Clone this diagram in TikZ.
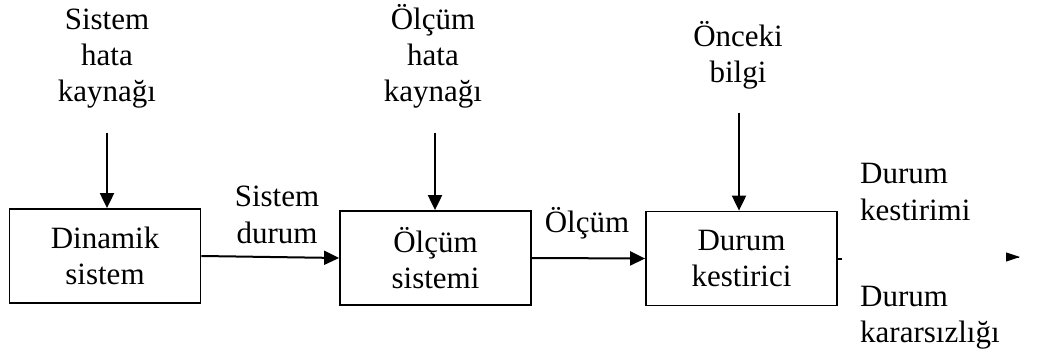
\documentclass[tikz,border=0pt]{standalone}
\usepackage{fontspec}
\setmainfont{Liberation Serif}
\usetikzlibrary{arrows.meta,calc}

\tikzset{
  blok/.style={draw, line width=1.8pt, minimum width=191pt, minimum height=94pt,
    align=center, inner sep=0pt},
  etiket/.style={align=center, inner sep=0pt, anchor=base},
  ok/.style={line width=2pt, -{Triangle[length=15pt,width=14pt]}}
}

\begin{document}
\begin{tikzpicture}[x=1pt, y=-1pt,
  every node/.style={font=\fontsize{31}{36}\selectfont}]
  \useasboundingbox (0,0) rectangle (1038,358);
  % bloklar
  \node[blok] (dinamik) at (105,256) {Dinamik\\sistem};
  \node[blok] (olcsis) at (435.5,258) {Ölçüm\\sistemi};
  \node[blok] (kestirici) at (741.5,258.5) {Durum\\kestirici};
  % girdiler
  \node[etiket] (sishata) at (107,102) {Sistem\\hata\\kaynağı};
  \node[etiket] (olchata) at (433,102) {Ölçüm\\hata\\kaynağı};
  \node[etiket] (onceki) at (738,83) {Önceki\\bilgi};
  \coordinate (g1) at (107,133);
  \coordinate (g2) at (435,133);
  \coordinate (g3) at (739,113);
  \draw[ok] (g1) -- (g1 |- dinamik.north);
  \draw[ok] (g2) -- (g2 |- olcsis.north);
  \draw[ok] (g3) -- (g3 |- kestirici.north);
  % baglantilar
  \draw[ok] (dinamik.east) -- (olcsis.west);
  \draw[ok] (olcsis.east) -- (kestirici.west);
  \node[etiket] (sisdurum) at (277,243) {Sistem\\durum};
  \node[etiket] (olcum) at (587,233) {Ölçüm};
  % cikis
  \coordinate (uc) at (1020,257);
  \draw[line width=2pt] (kestirici.east) -- ++(4,0);
  \draw[line width=1pt, -{Triangle[length=14pt,width=9pt]}] ($(uc)+(-1,0)$) -- (uc);
  \node[etiket, align=left, anchor=base west] (kestirim) at (860,220) {Durum\\kestirimi};
  \node[etiket, align=left, anchor=base west] (karar) at (860,342) {Durum\\kararsızlığı};
\end{tikzpicture}
\end{document}
